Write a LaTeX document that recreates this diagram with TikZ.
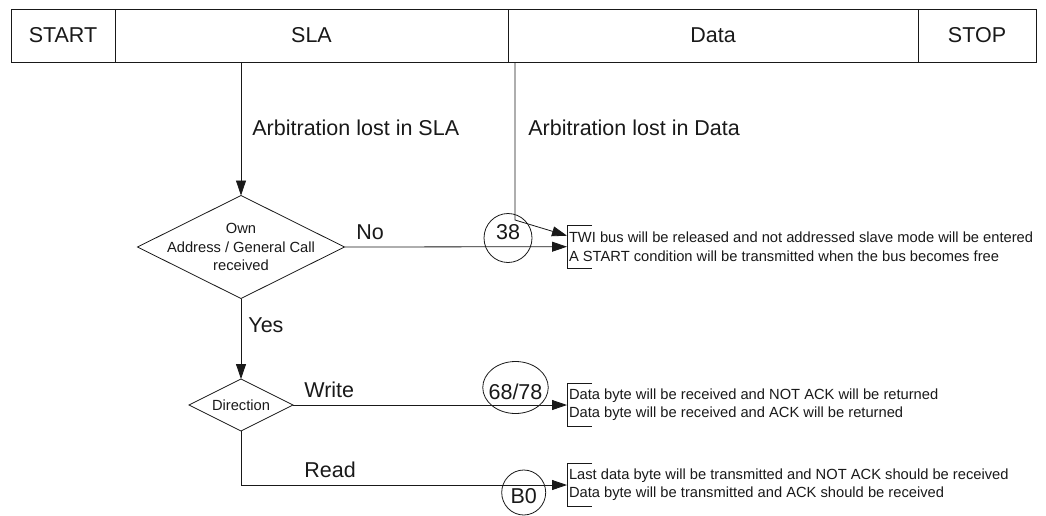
\documentclass[tikz,border=0pt]{standalone}
\usepackage{fontspec}
\setmainfont{Liberation Sans}
\usetikzlibrary{arrows.meta,positioning,shapes.geometric}

\begin{document}
\begin{tikzpicture}[x=1pt,y=-1pt,line width=0.8pt,color=black!90,
  big/.style={font=\fontsize{21.5}{25}\selectfont},
  small/.style={font=\fontsize{14.7}{18.3}\selectfont},
  lab/.style={big,anchor=west,inner sep=0pt},
  cell/.style={draw,big,minimum height=53pt,inner sep=0pt,outer sep=0pt},
  dec/.style={draw,diamond,inner sep=0pt,outer sep=0pt},
  stat/.style={draw,ellipse,big,inner sep=0pt,text height=0pt,text depth=0pt},
  res/.style={small,align=left,anchor=west,minimum height=43pt,inner sep=2pt,outer sep=0pt},
  arr/.style={-{Triangle[length=15pt,width=10pt]}}]
\useasboundingbox (0,0) rectangle (1046,515);
% frame
\node[cell,minimum width=104pt] (start) at (63,35.5) {START};
\node[cell,minimum width=393pt] (sla) at (311.5,35.5) {SLA};
\node[cell,minimum width=410pt] (data) at (713,35.5) {Data};
\node[cell,minimum width=118pt] (stop) at (977,35.5) {STOP};
\coordinate (arbS) at (241,62); \coordinate (arbD) at (515,62); \coordinate (bend) at (515,220);
\node[lab] (lostS) at (252,128) {Arbitration lost in SLA};
\node[lab] (lostD) at (528,128) {Arbitration lost in Data};
% decisions
\node[dec,minimum width=207pt,minimum height=103pt] (own) at (241,247) {};
\node[small,align=center,inner sep=0pt] (ownlab) at (own) {Own\\Address / General Call\\received};
\node[dec,small,aspect=2,minimum width=104pt,minimum height=52pt] (dir) at (241,405) {Direction};
% results
\node[res] (twi) at (567,246.7) {TWI bus will be released and not addressed slave mode will be entered\\A START condition will be transmitted when the bus becomes free};
\node[res] (wr) at (567,405) {Data byte will be received and NOT ACK will be returned\\Data byte will be received and ACK will be returned};
\node[res] (rd) at (567,485) {Last data byte will be transmitted and NOT ACK should be received\\Data byte will be transmitted and ACK should be received};
\foreach \r in {twi,wr,rd}
  \draw ([xshift=25pt]\r.north west) -- (\r.north west) -- (\r.south west) -- ([xshift=25pt]\r.south west);
% status codes
\node[stat,minimum width=48pt,minimum height=49pt] (s38) at (508,238) {\raisebox{-1.7pt}{\makebox[0pt]{38}}};
\node[stat,minimum width=65.5pt,minimum height=52pt] (s68) at (515.5,387.5) {\raisebox{-12pt}{\makebox[0pt]{68/78}}};
\node[stat,minimum width=44pt,minimum height=45pt] (sB0) at (523.7,492.5) {\raisebox{-10.5pt}{\makebox[0pt]{B0}}};
% flow
\draw[arr] (arbS) -- (own.north);
\draw[arr] (arbD) -- (bend) -- ([yshift=11pt]twi.west);
\draw[arr] (own.east) -- (twi.west);
\draw[arr] (own.south) -- (dir.north);
\draw[arr] (dir.east) -- (wr.west);
\draw[arr] (dir.south) |- (rd.west);
\node[lab] (no) at (356,232) {No}; \node[lab] (yes) at (248,325) {Yes};
\node[lab] (write) at (304,390) {Write}; \node[lab] (read) at (304,470) {Read};
\end{tikzpicture}
\end{document}
